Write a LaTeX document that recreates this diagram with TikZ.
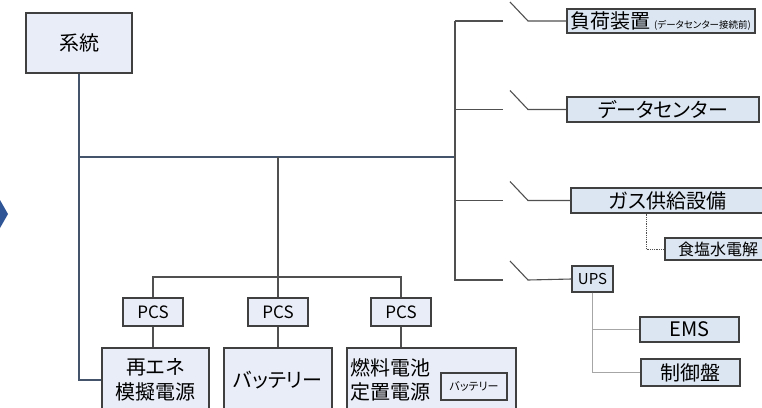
\documentclass[tikz,border=0pt]{standalone}
\usepackage{fontspec}
\setmainfont[RawFeature=+palt]{Noto Sans CJK JP}
\definecolor{boxA}{HTML}{E9EDF7}
\definecolor{boxB}{HTML}{DCE6F2}
\definecolor{edgeC}{HTML}{404040}
\definecolor{busblue}{HTML}{44546A}
\definecolor{wireC}{HTML}{505050}
\definecolor{wireL}{HTML}{A6A6A6}
\definecolor{chev}{HTML}{2F5597}
\newcommand\fsz[2]{\fontsize{#1}{#2}\selectfont}
\begin{document}
\begin{tikzpicture}[x=1pt,y=-1pt,
  bx/.style={draw=edgeC,line width=1.1pt,inner sep=0pt,fill=boxA},
  bxb/.style={bx,fill=boxB},
  wire/.style={draw=wireC,line width=1.1pt},
  bluewire/.style={draw=busblue,line width=1.1pt},
  lightwire/.style={draw=wireL,line width=1.1pt},
  dotwire/.style={draw=wireC,line width=0.8pt,densely dotted},
  lbl/.style={inner sep=0pt}]
\useasboundingbox (0,0) rectangle (762,407);
\clip (0,0) rectangle (762,407);
% chevron
\fill[chev] (-4,200) -- (0,200) -- (8,214) -- (0,228) -- (-4,228) -- cycle;
% left boxes
\node[bx,minimum width=106pt,minimum height=60pt,font=\fsz{20}{24}] (sys) at (79,43) {系統};
\node[bx,minimum width=60pt,minimum height=28pt,font=\fsz{17}{20}] (pcs1) at (153,312) {PCS};
\node[bx,minimum width=60pt,minimum height=28pt,font=\fsz{17}{20}] (pcs2) at (278,312) {PCS};
\node[bx,minimum width=60pt,minimum height=28pt,font=\fsz{17}{20}] (pcs3) at (401,312) {PCS};
\node[bx,minimum width=107pt,minimum height=64pt,font=\fsz{20}{25},align=center] (re) at (155.5,380) {再エネ\\模擬電源};
\node[bx,minimum width=108pt,minimum height=64pt,font=\fsz{20}{25}] (bat) at (278,380) {バッテリー};
\node[bx,minimum width=169pt,minimum height=64pt] (fc) at (431.5,380) {};
\node[lbl,anchor=west,font=\fsz{20}{24},align=left] (fct) at (350,380) {燃料電池\\定置電源};
\node[bx,minimum width=66pt,minimum height=27pt,font=\fsz{11}{13}] (fcb) at (474,386.5) {バッテリー};
% right boxes
\node[bxb,minimum width=188pt,minimum height=24pt] (load) at (661,21) {};
\node[lbl,anchor=west] (loadt) at (570,21) {\fsz{20}{24}負荷装置\hspace{4pt}{\fsz{9.5}{11}(データセンター接続前)}};
\node[bxb,minimum width=192pt,minimum height=25pt,font=\fsz{20}{24}] (dc) at (663,109.5) {データセンター};
\node[bxb,minimum width=193pt,minimum height=25pt,font=\fsz{20}{24}] (gas) at (667.5,200.5) {ガス供給設備};
\node[bxb,minimum width=106pt,minimum height=22pt,font=\fsz{16}{19}] (salt) at (718,249) {食塩水電解};
\node[bxb,minimum width=41pt,minimum height=26pt,font=\fsz{15}{18}] (ups) at (592.5,279) {UPS};
\node[bxb,minimum width=99pt,minimum height=25pt,font=\fsz{20}{24}] (ems) at (689.5,329.5) {EMS};
\node[bxb,minimum width=99pt,minimum height=27pt,font=\fsz{20}{24}] (ctl) at (690.5,372.5) {制御盤};
% bus coordinates
\coordinate (busL) at (79,157);
\coordinate (busR) at (455,157);
\coordinate (busC) at (278,157);
\coordinate (pbus) at (278,277);
\coordinate (rtop) at (455,21);
\coordinate (rbot) at (455,281);
\coordinate (gdot) at (646,0);
% left connectors
\draw[bluewire] (sys.south) |- (re.west);
\draw[bluewire] (busL) -- (busR);
\draw[wire] (rtop) -- (rbot);
\draw[wire] (busC) -- (pbus);
\draw[wire] (pcs1.north) |- (pbus) -| (pcs3.north);
\draw[wire] (pbus) -- (pcs2.north);
\draw[wire] (pcs1.south) -- (pcs1.south |- re.north);
\draw[wire] (pcs2.south) -- (bat.north);
\draw[wire] (pcs3.south) -- (pcs3.south |- fc.north);
% switched branches
\foreach \n/\yy in {load/21,dc/109.5,gas/200.5,ups/280}{
  \coordinate (a\n) at (455,\yy);
  \coordinate (b\n) at (503,\yy);
  \coordinate (s\n) at (510,\yy-19);
  \coordinate (e\n) at (528,\yy);
  \draw[wire] (a\n) -- (b\n);
  \draw[wire] (s\n) -- (e\n) -- (\n.west);
}
% sub connectors
\draw[dotwire] (gas.south -| gdot) |- (salt.west);
\draw[lightwire] (ups.south) |- (ems.west);
\draw[lightwire] (ups.south) |- (ctl.west);
\end{tikzpicture}
\end{document}
